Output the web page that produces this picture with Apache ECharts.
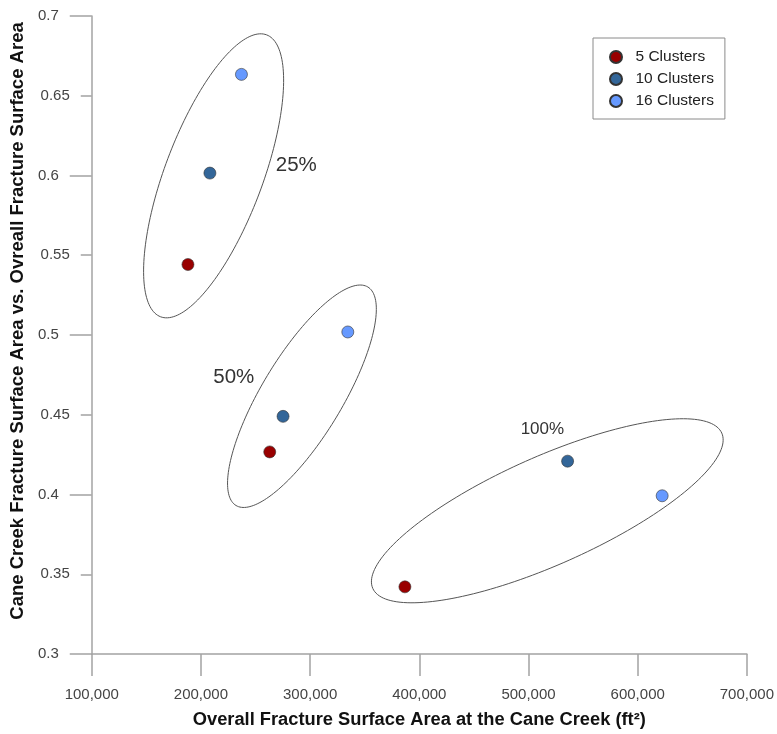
<!DOCTYPE html>
<html>
<head>
<meta charset="utf-8">
<script src="https://cdn.jsdelivr.net/npm/echarts@6/dist/echarts.min.js"></script>
<style>
  html, body { margin: 0; padding: 0; background: #fff; }
  #chart { width: 777px; height: 734px; }
</style>
</head>
<body>
<div id="chart"></div>
<script>
// Cluster counts and their measured points (one per perforation share)
const seriesNames = ['5 Clusters', '10 Clusters', '16 Clusters'];
const x5 = [188100, 263000, 386800];
const y5 = [0.5442, 0.4267, 0.3421];
const x10 = [208200, 275200, 535800];
const y10 = [0.6015, 0.4490, 0.4209];
const x16 = [237100, 334500, 622400];
const y16 = [0.6634, 0.5019, 0.3992];

// Groupings circled on the plot (centre and caption anchor in axis units)
const groupNames = ['25%', '50%', '100%'];
const groupCenterX = [211600, 292500, 517200];
const groupCenterY = [0.5998, 0.4616, 0.3898];
const groupLabelX = [287300, 230100, 512700];
const groupLabelY = [0.6063, 0.4734, 0.4406];

// Axis ranges
const xMin = 100000, xMax = 700000, xStep = 100000;
const yMin = 0.3, yMax = 0.7, yStep = 0.05;

// Outline shape of each grouping ellipse (screen pixels) and caption size
const ringShape = [
  { a: 150.6, b: 48.9, angle: 69.4, fontSize: 20.5 },
  { a: 127.6, b: 40.3, angle: 58.9, fontSize: 20.5 },
  { a: 191.0, b: 54.0, angle: 24.0, fontSize: 17 }
];

const FONT = "'Liberation Sans', Arial, sans-serif";
const AXIS_COLOR = '#a3a3a3';
const colors = ['#990000', '#336699', '#6699ff'];

function zip(xs, ys) { return xs.map((x, i) => [x, ys[i]]); }

const pointSets = [zip(x5, y5), zip(x10, y10), zip(x16, y16)];
const groupData = groupNames.map((n, i) => [groupCenterX[i], groupCenterY[i], groupLabelX[i], groupLabelY[i]]);

function isTenth(v) { return Math.abs(Math.round(v * 10) - v * 10) < 1e-6; }

const chart = echarts.init(document.getElementById('chart'), null, { renderer: 'canvas' });

const option = {
  backgroundColor: '#fff',
  animation: false,
  textStyle: { fontFamily: FONT },
  grid: { left: 90, right: 29, top: 16, bottom: 79, containLabel: false },
  legend: {
    data: seriesNames,
    orient: 'vertical',
    left: 593, top: 38,
    padding: [11, 11, 10, 16],
    itemWidth: 29, itemHeight: 12, itemGap: 6,
    icon: 'circle',
    borderColor: '#8a8a8a', borderWidth: 1,
    textStyle: { fontFamily: FONT, fontSize: 15.5, color: '#222', lineHeight: 15 }
  },
  xAxis: {
    type: 'value', min: xMin, max: xMax, interval: xStep,
    name: 'Overall Fracture Surface Area at the Cane Creek (ft²)',
    nameLocation: 'middle', nameGap: 57,
    nameTextStyle: { fontFamily: FONT, fontSize: 18.3, fontWeight: 'bold', color: '#111' },
    axisLine: { show: true, onZero: false, lineStyle: { color: AXIS_COLOR, width: 1.5 } },
    axisTick: { show: true, length: 22, lineStyle: { color: AXIS_COLOR, width: 1.5 } },
    axisLabel: {
      margin: 33, fontFamily: FONT, fontSize: 15, color: '#444',
      formatter: v => v.toLocaleString('en-US')
    },
    splitLine: { show: false }
  },
  yAxis: [
    {
      type: 'value', min: yMin, max: yMax, interval: yStep,
      name: 'Cane Creek Fracture Surface Area vs. Ovreall Fracture Surface Area',
      nameLocation: 'middle', nameGap: 62,
      nameTextStyle: { fontFamily: FONT, fontSize: 18.5, fontWeight: 'bold', color: '#111', padding: [0, 0, 0, 28] },
      axisLine: { show: true, onZero: false, lineStyle: { color: AXIS_COLOR, width: 1.5 } },
      axisTick: { show: true, length: 11, lineStyle: { color: AXIS_COLOR, width: 1.5 } },
      axisLabel: {
        margin: 22, fontFamily: FONT, fontSize: 15, color: '#444',
        formatter: v => isTenth(v) ? '{l|' + v + '}' : '{s|' + v + '}',
        rich: {
          l: { fontFamily: FONT, fontSize: 15, color: '#444', padding: [0, 11, 0, 0] },
          s: { fontFamily: FONT, fontSize: 15, color: '#444' }
        }
      },
      splitLine: { show: false }
    },
    {
      // longer ticks at every tenth
      type: 'value', min: yMin, max: yMax, interval: 0.1, position: 'left',
      axisLine: { show: false },
      axisTick: { show: true, length: 22, lineStyle: { color: AXIS_COLOR, width: 1.5 } },
      axisLabel: { show: false },
      splitLine: { show: false }
    }
  ],
  series: [
    {
      type: 'custom',
      name: 'groups',
      xAxisIndex: 0, yAxisIndex: 0,
      silent: true, z: 1,
      data: groupData,
      renderItem: function (params, api) {
        const i = params.dataIndex;
        const c = api.coord([api.value(0), api.value(1)]);
        const lab = api.coord([api.value(2), api.value(3)]);
        const s = ringShape[i];
        const th = s.angle * Math.PI / 180;
        const pts = [];
        for (let k = 0; k < 180; k++) {
          const t = k / 180 * Math.PI * 2;
          const ex = s.a * Math.cos(t), ey = s.b * Math.sin(t);
          pts.push([c[0] + ex * Math.cos(th) - ey * Math.sin(th),
                    c[1] - (ex * Math.sin(th) + ey * Math.cos(th))]);
        }
        return {
          type: 'group',
          children: [
            { type: 'polygon', shape: { points: pts },
              style: { fill: 'none', stroke: '#555', lineWidth: 1 } },
            { type: 'text', x: lab[0], y: lab[1],
              style: { text: groupNames[i], fontFamily: FONT, fontSize: s.fontSize, fill: '#333',
                       align: 'center', verticalAlign: 'middle' } }
          ]
        };
      }
    }
  ].concat(seriesNames.map((n, i) => ({
    type: 'scatter',
    name: n,
    xAxisIndex: 0, yAxisIndex: 0,
    z: 3,
    symbol: 'circle', symbolSize: 12,
    itemStyle: { color: colors[i], borderColor: '#333', borderWidth: 0.6, opacity: 1 },
    data: pointSets[i]
  })))
};

chart.setOption(option);
</script>
</body>
</html>
